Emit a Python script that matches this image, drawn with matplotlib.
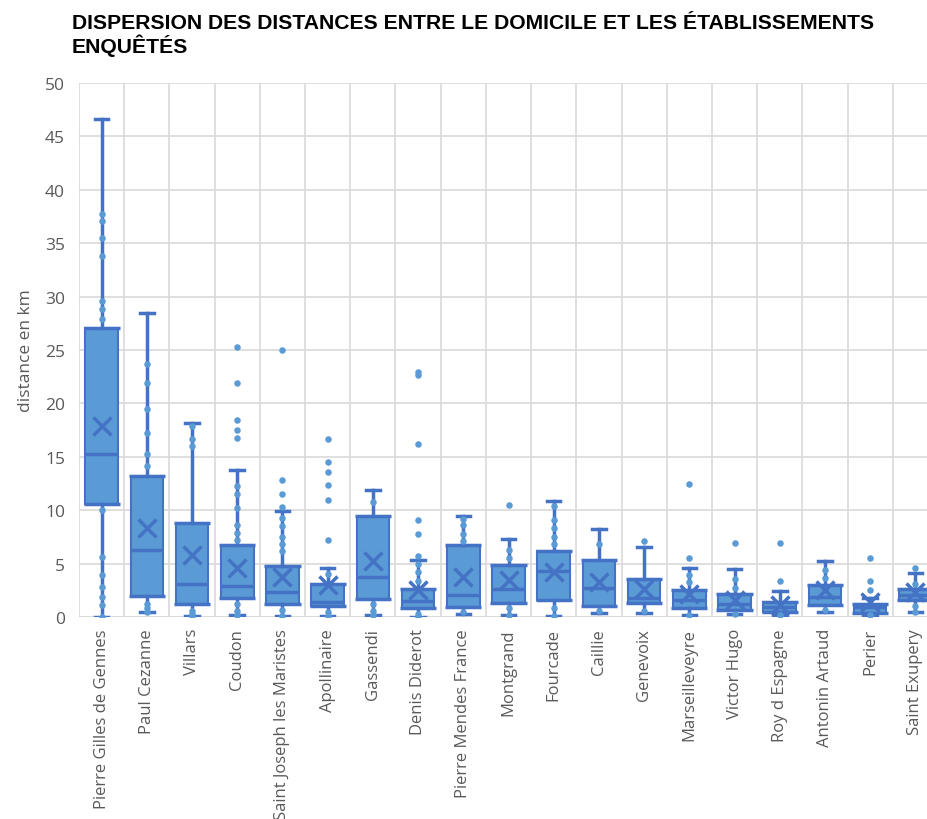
import matplotlib
matplotlib.use("Agg")
import matplotlib.pyplot as plt
import numpy as np

categories = ["Pierre Gilles de Gennes", "Paul Cezanne", "Villars", "Coudon",
              "Saint Joseph les Maristes", "Apollinaire", "Gassendi", "Denis Diderot",
              "Pierre Mendes France", "Montgrand", "Fourcade", "Caillie", "Genevoix",
              "Marseilleveyre", "Victor Hugo", "Roy d Espagne", "Antonin Artaud",
              "Perier", "Saint Exupery"]

whislo = [0.0, 0.5, 0.05, 0.15, 0.1, 0.1, 0.15, 0.0, 0.25, 0.15, 0.1, 0.4, 0.4,
          0.15, 0.25, 0.15, 0.5, 0.15, 0.45]
q1 = [10.6, 2.0, 1.2, 1.75, 1.2, 1.0, 1.7, 0.8, 0.95, 1.3, 1.6, 1.05, 1.3,
      0.85, 0.7, 0.5, 1.15, 0.4, 1.55]
median = [15.3, 6.3, 3.1, 2.9, 2.3, 1.4, 3.7, 1.5, 2.1, 2.65, 4.3, 2.75, 1.8,
          1.6, 1.2, 0.9, 1.9, 0.95, 2.1]
q3 = [27.1, 13.2, 8.8, 6.7, 4.75, 3.1, 9.5, 2.65, 6.7, 4.85, 6.2, 5.3, 3.6,
      2.5, 2.2, 1.4, 3.0, 1.25, 2.6]
whishi = [46.6, 28.5, 18.2, 13.8, 9.9, 4.6, 11.9, 5.3, 9.5, 7.3, 10.9, 8.2, 6.6,
          4.6, 4.5, 2.4, 5.25, 1.8, 4.1]
means = [17.9, 8.3, 5.8, 4.6, 3.7, 3.0, 5.25, 2.5, 3.75, 3.5, 4.2, 3.3, 2.65,
         2.2, 1.6, 1.1, 2.5, 1.4, 2.35]
points = [
    [37.7, 37.1, 35.5, 33.8, 29.6, 28.8, 27.9, 10.0, 5.6, 3.9, 2.85, 1.9, 1.1, 0.0],
    [23.7, 21.9, 19.5, 17.2, 15.3, 14.1, 1.2, 0.8, 0.5],
    [17.9, 16.7, 16.0, 0.6, 0.25, 0.05],
    [25.3, 21.9, 18.4, 17.5, 16.8, 12.3, 11.5, 10.2, 8.6, 7.9, 7.2, 1.2, 0.6, 0.15],
    [25.0, 12.8, 11.5, 10.3, 9.3, 8.5, 7.5, 6.8, 6.2, 0.7, 0.1],
    [16.7, 14.5, 13.55, 12.4, 11.0, 7.2, 4.0, 0.5, 0.1],
    [10.8, 1.25, 0.6, 0.15],
    [22.9, 22.7, 16.2, 9.1, 7.8, 5.7, 5.0, 4.2, 3.4, 0.3, 0.0],
    [9.2, 8.6, 7.8, 7.1, 0.5],
    [10.5, 6.3, 5.5, 0.8, 0.15],
    [10.4, 9.1, 8.3, 7.5, 6.8, 0.8, 0.1],
    [6.8, 0.6],
    [7.1, 0.6],
    [12.5, 5.5, 3.9, 3.3, 0.15],
    [6.9, 3.6, 2.75, 0.25],
    [6.9, 3.4, 0.15],
    [4.4, 3.65, 0.7],
    [5.5, 3.4, 2.5, 0.15],
    [4.6, 3.1, 1.0, 0.45],
]

yticks = [0, 5, 10, 15, 20, 25, 30, 35, 40, 45, 50]

DARK = "#4472C4"
LIGHT = "#5B9BD5"
GRAY = "#595959"
GRID = "#D9D9D9"

plt.rcParams['font.family'] = ['Open Sans', 'DejaVu Sans']

fig = plt.figure(figsize=(9.27, 8.2), dpi=100)
ax = fig.add_axes([79 / 927, 1 - 618 / 820, 859 / 927, 534 / 820])

n = len(categories)
pos = np.arange(n)
stats = []
for i in range(n):
    stats.append(dict(whislo=whislo[i], q1=q1[i], med=median[i], q3=q3[i],
                      whishi=whishi[i], fliers=[], label=categories[i]))

ax.bxp(stats, positions=pos, widths=0.72, patch_artist=True, showfliers=False,
       capwidths=0.3,
       boxprops=dict(facecolor=LIGHT, edgecolor=DARK, linewidth=1.5),
       medianprops=dict(color=DARK, linewidth=2.5),
       whiskerprops=dict(color=DARK, linewidth=2.5),
       capprops=dict(color=DARK, linewidth=2.5),
       manage_ticks=False, zorder=3)

# thick box edges (Q1/Q3 lines) like Excel
for i in range(n):
    for v in (q1[i], q3[i]):
        ax.plot([pos[i] - 0.4, pos[i] + 0.4], [v, v], color=DARK, lw=2.5,
                solid_capstyle='butt', zorder=4)

for i in range(n):
    ax.scatter(np.full(len(points[i]), pos[i]), points[i], s=22, color=LIGHT,
               zorder=5, linewidths=0)

ax.plot(pos, means, linestyle='none', marker='x', markersize=13,
        markeredgewidth=2.5, color=DARK, zorder=6)

ax.set_xlim(-0.5, n - 0.5)
ax.set_ylim(0, 50)
ax.set_yticks(yticks)
ax.set_xticks(pos)
ax.set_xticklabels(categories, rotation=90, fontsize=12.0, color=GRAY)
ax.set_xticks(np.arange(n + 1) - 0.5, minor=True)
ax.tick_params(axis='y', labelsize=12.5, colors=GRAY, length=0, pad=10)
ax.tick_params(axis='x', which='both', length=0, pad=8)
ax.grid(axis='y', which='major', color=GRID, linewidth=1.2, zorder=0)
ax.grid(axis='x', which='minor', color=GRID, linewidth=1.2, zorder=0)
ax.set_axisbelow(True)
for s in ax.spines.values():
    s.set_visible(False)
ax.axhline(0, color=GRID, lw=1.2, zorder=1)

ax.set_ylabel("distance en km", fontsize=12.5, color=GRAY, labelpad=8)

fig.text(72 / 927, 1 - 14 / 820,
         "DISPERSION DES DISTANCES ENTRE LE DOMICILE ET LES ÉTABLISSEMENTS\nENQUÊTÉS",
         ha='left', va='top', fontsize=15.2, fontweight='bold',
         family=['Liberation Sans Narrow', 'Liberation Sans', 'DejaVu Sans'],
         color='black', linespacing=1.1)

fig.savefig("out.png", dpi=100)
